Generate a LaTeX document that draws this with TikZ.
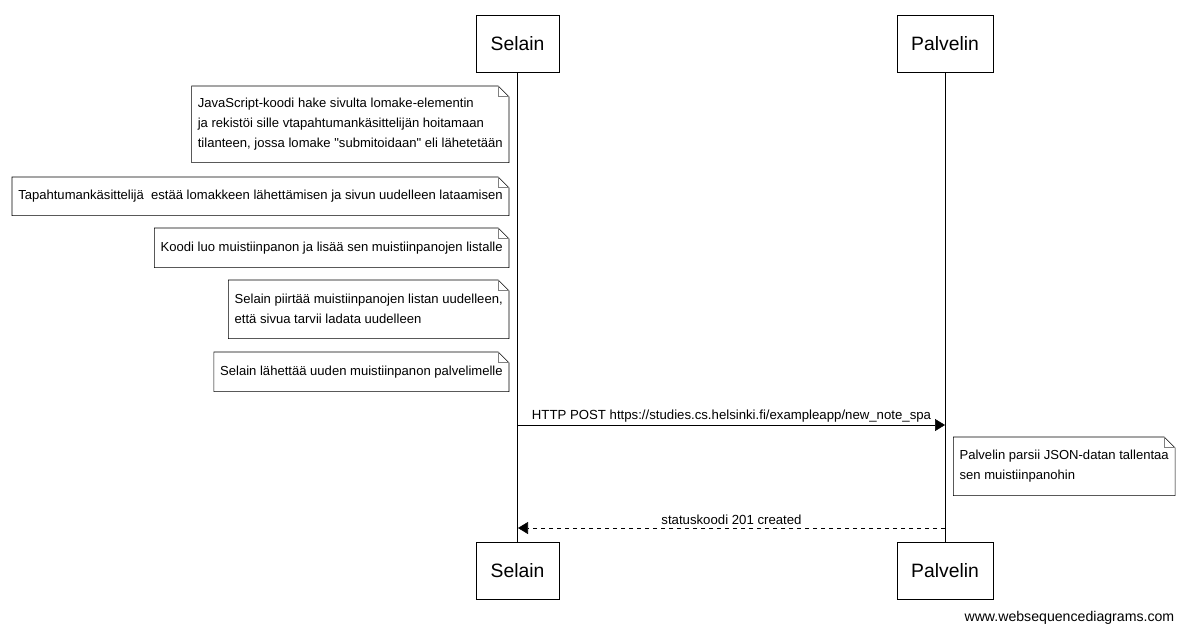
\documentclass[tikz,border=0pt]{standalone}
\usepackage{fontspec}
\setmainfont{Liberation Sans}
\usetikzlibrary{arrows.meta}
\tikzset{
  actor/.style={draw, minimum height=42.75pt, font=\fontsize{14.5}{16}\selectfont},
  note/.style={anchor=north east, align=left, inner xsep=4.5pt, font=\fontsize{9.8}{15}\selectfont},
  msg/.style={-{Triangle[length=7.5pt,width=9pt]}},
  lbl/.style={font=\fontsize{9.9}{11}\selectfont, above, inner sep=2pt}
}
\newcommand{\dogear}[1]{%
  \draw (#1.north west) -- ([xshift=-8pt]#1.north east) -- ([yshift=-8pt]#1.north east) -- (#1.south east) -- (#1.south west) -- cycle;
  \draw[gray] ([xshift=-8pt]#1.north east) |- ([yshift=-8pt]#1.north east);}
\begin{document}
\begin{tikzpicture}[x=0.75pt, y=-0.75pt]
\useasboundingbox (0,0) rectangle (1184,633);
% participants
\node[actor, minimum width=62.25pt] (selT) at (517.5,43.5) {Selain};
\node[actor, minimum width=72pt] (palT) at (945,43.5) {Palvelin};
\node[actor, minimum width=62.25pt] (selB) at (517.5,570.5) {Selain};
\node[actor, minimum width=72pt] (palB) at (945,570.5) {Palvelin};
\draw (selT) -- (selB);
\draw (palT) -- (palB);
% notes
\node[note, minimum height=57pt] (n1) at (509,86) {JavaScript-koodi hake sivulta lomake-elementin\\ja rekistöi sille vtapahtumankäsittelijän hoitamaan\\tilanteen, jossa lomake \textquotedbl submitoidaan\textquotedbl{} eli lähetetään};
\node[note, minimum height=28.5pt] (n2) at (509,177) {Tapahtumankäsittelijä\ \ estää lomakkeen lähettämisen ja sivun uudelleen lataamisen};
\node[note, minimum height=29.25pt] (n3) at (509,228) {Koodi luo muistiinpanon ja lisää sen muistiinpanojen listalle};
\node[note, minimum height=43.5pt] (n4) at (509,280) {Selain piirtää muistiinpanojen listan uudelleen,\\että sivua tarvii ladata uudelleen};
\node[note, minimum height=29.25pt] (n5) at (509,352) {Selain lähettää uuden muistiinpanon palvelimelle};
\node[note, minimum height=43.5pt] (n6) at (1175,437) {Palvelin parsii JSON-datan tallentaa\\sen muistiinpanohin};
\foreach \n in {n1,n2,n3,n4,n5,n6} {\dogear{\n}}
% messages
\coordinate (postA) at (518,425);
\coordinate (postB) at (945,425);
\coordinate (respA) at (518,528);
\coordinate (respB) at (945,528);
\draw[msg] (postA) -- node[lbl] {HTTP POST https://studies.cs.helsinki.fi/exampleapp/new\_note\_spa} (postB);
\draw[msg, dashed] (respB) -- node[lbl] {statuskoodi 201 created} (respA);
\node[anchor=east, font=\fontsize{10.6}{12}\selectfont] (wsd) at (1179,618) {www.websequencediagrams.com};
\end{tikzpicture}
\end{document}
